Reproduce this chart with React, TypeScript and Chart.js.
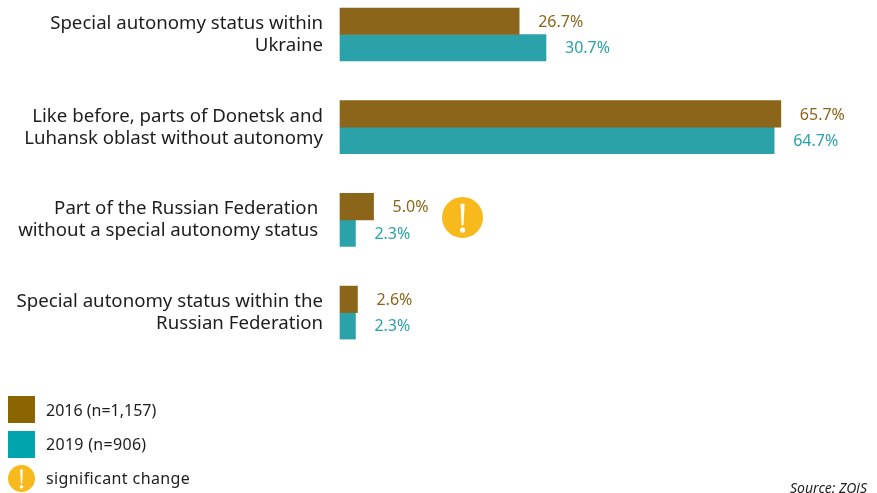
import React, { useEffect, useRef } from "react";
import { Chart, registerables } from "chart.js";

Chart.register(...registerables);

const categories: string[][] = [
  ["Special autonomy status within", "Ukraine"],
  ["Like before, parts of Donetsk and", "Luhansk oblast without autonomy"],
  ["Part of the Russian Federation\u00a0", "without a special autonomy status\u00a0"],
  ["Special autonomy status within the", "Russian Federation"],
];
const values2016 = [26.7, 65.7, 5.0, 2.6];
const values2019 = [30.7, 64.7, 2.3, 2.3];
const series = ["2016 (n=1,157)", "2019 (n=906)"];
const noteLabel = "significant change";
const source = "Source: ZOiS";
const flaggedCategory = 2;

const FONT = '"Noto Sans", "Open Sans", sans-serif';
const BROWN = "#8b6519";
const TEAL = "#2ba1a9";
const LEGEND_BROWN = "#8b6600";
const LEGEND_TEAL = "#00a4ac";
const AMBER = "#f7b91b";
const INK = "#1d1d1b";

function drawAlert(ctx: CanvasRenderingContext2D, x: number, y: number, r: number) {
  ctx.fillStyle = AMBER;
  ctx.beginPath();
  ctx.arc(x, y, r, 0, Math.PI * 2);
  ctx.fill();
  ctx.fillStyle = "#ffffff";
  const top = r * 0.66;
  ctx.beginPath();
  ctx.moveTo(x - r * 0.1, y - top);
  ctx.lineTo(x + r * 0.1, y - top);
  ctx.lineTo(x + r * 0.05, y + r * 0.38);
  ctx.lineTo(x - r * 0.05, y + r * 0.38);
  ctx.closePath();
  ctx.fill();
  ctx.beginPath();
  ctx.arc(x, y + r * 0.62, r * 0.13, 0, Math.PI * 2);
  ctx.fill();
}

const overlay = {
  id: "overlay",
  afterDatasetsDraw(chart: any) {
    const { ctx, scales } = chart;
    ctx.save();
    ctx.font = `16px ${FONT}`;
    ctx.textBaseline = "middle";
    ctx.textAlign = "left";
    chart.data.datasets.forEach((ds: any, i: number) => {
      ctx.fillStyle = i === 0 ? BROWN : TEAL;
      chart.getDatasetMeta(i).data.forEach((bar: any, j: number) => {
        ctx.fillText(`${ds.data[j].toFixed(1)}%`, bar.x + 19, bar.y + 1);
      });
    });
    const yFlag = scales.y.getPixelForValue(flaggedCategory);
    const xFlag = scales.x.getPixelForValue(values2016[flaggedCategory]);
    drawAlert(ctx, xFlag + 89, yFlag - 2.5, 20.5);

    ctx.font = `16px ${FONT}`;
    ctx.fillStyle = LEGEND_BROWN;
    ctx.fillRect(8, 396, 27, 27);
    ctx.fillStyle = LEGEND_TEAL;
    ctx.fillRect(8, 431, 27, 27);
    drawAlert(ctx, 21.5, 478.5, 13.5);
    ctx.fillStyle = INK;
    ctx.fillText(series[0], 46, 411);
    ctx.letterSpacing = "0.3px";
    ctx.fillText(series[1], 46, 445);
    ctx.letterSpacing = "0.4px";
    ctx.fillText(noteLabel, 46, 479);
    ctx.letterSpacing = "0px";
    ctx.font = `italic 14px ${FONT}`;
    ctx.textAlign = "right";
    ctx.fillText(source, 867, 489);
    ctx.restore();
  },
};

export default function App() {
  const ref = useRef<HTMLCanvasElement>(null);
  useEffect(() => {
    const chart = new Chart(ref.current!, {
      type: "bar",
      data: {
        labels: categories as any,
        datasets: [
          { label: series[0], data: values2016, backgroundColor: BROWN, barThickness: 26.5, clip: false as any },
          { label: series[1], data: values2019, backgroundColor: TEAL, barThickness: 26.5, clip: false as any },
        ],
      },
      options: {
        indexAxis: "y",
        responsive: false,
        animation: false,
        layout: { padding: { top: 34.5, bottom: 493 - 312.6, left: 0, right: 0 } },
        plugins: { legend: { display: false }, title: { display: false }, tooltip: { enabled: false } },
        scales: {
          x: {
            display: true,
            min: 0,
            max: (877 - 340) / 6.71,
            border: { display: false },
            grid: { display: false },
            ticks: { display: false },
            afterFit: (s: any) => { s.height = 0; },
          },
          y: {
            offset: false,
            border: { display: false },
            grid: { display: false, drawTicks: false },
            ticks: {
              padding: 17,
              color: INK,
              font: { family: FONT, size: 18.65, lineHeight: 1.18 },
              autoSkip: false,
            },
            afterFit: (s: any) => {
              s.width = 340;
              s.paddingTop = 0;
              s.paddingBottom = 0;
            },
          },
        },
      },
      plugins: [overlay],
    });
    return () => chart.destroy();
  }, []);
  return (
    <div style={{ position: "absolute", left: 0, top: 0, width: 877, height: 493, background: "#fff" }}>
      <canvas ref={ref} width={877} height={493} style={{ display: "block" }} />
    </div>
  );
}
